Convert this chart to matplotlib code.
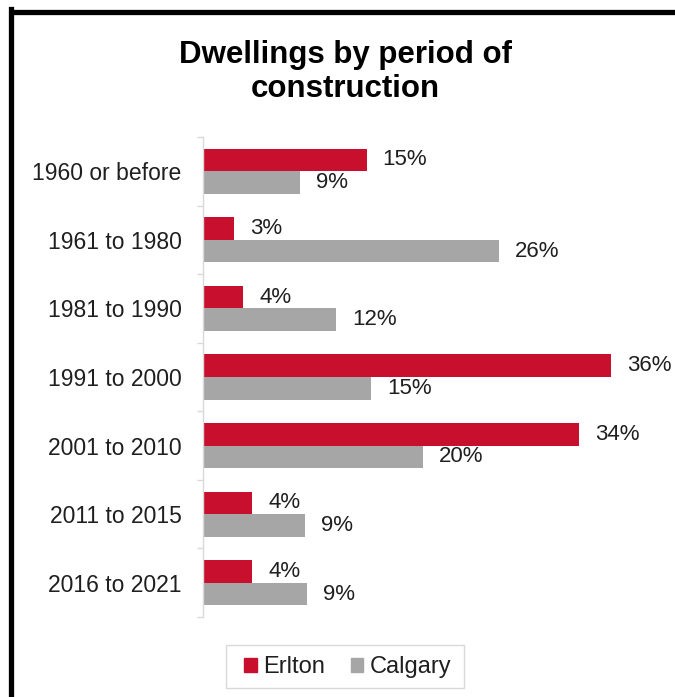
import matplotlib
matplotlib.use("Agg")
import matplotlib.pyplot as plt
from matplotlib.lines import Line2D
from matplotlib.patches import Patch, Rectangle

plt.rcParams['font.family'] = ['Liberation Sans', 'DejaVu Sans']

periods = ['1960 or before', '1961 to 1980', '1981 to 1990', '1991 to 2000',
           '2001 to 2010', '2011 to 2015', '2016 to 2021']
erlton = [14.6, 2.8, 3.6, 36.4, 33.6, 4.4, 4.4]
calgary = [8.7, 26.4, 11.9, 15.0, 19.6, 9.1, 9.3]
series_names = ['Erlton', 'Calgary']
title_lines = ['Dwellings by period of', 'construction']

red = '#C8102E'
grey = '#A6A6A6'
txt = '#1F1F1F'

fig = plt.figure(figsize=(6.75, 6.97), dpi=100)
ax = fig.add_axes([203 / 675, 1 - 617 / 697, 448 / 675, 480 / 697])

h = 0.33
ys = list(range(len(periods)))
ax.barh([y - h / 2 for y in ys], erlton, height=h, color=red)
ax.barh([y + h / 2 for y in ys], calgary, height=h, color=grey)

for y, v in zip(ys, erlton):
    ax.annotate(f'{v:.0f}%', (v, y - h / 2), xytext=(11.5, 0), textcoords='offset points',
                ha='left', va='center', fontsize=16, color=txt)
for y, v in zip(ys, calgary):
    ax.annotate(f'{v:.0f}%', (v, y + h / 2), xytext=(11.5, 0), textcoords='offset points',
                ha='left', va='center', fontsize=16, color=txt)

ax.set_xlim(0, 40)
ax.set_ylim(len(periods) - 0.5, -0.5)
ax.set_yticks(ys)
ax.set_yticklabels(periods, fontsize=16.5, color=txt)
ax.set_yticks([y - 0.5 for y in ys] + [len(periods) - 0.5], minor=True)
ax.tick_params(axis='y', which='major', length=0, pad=15.5)
ax.tick_params(axis='y', which='minor', length=4.5, color='#D9D9D9', width=1)
ax.set_xticks([])
for s in ['top', 'right', 'bottom']:
    ax.spines[s].set_visible(False)
ax.spines['left'].set_color('#D9D9D9')
ax.spines['left'].set_linewidth(1)

# title, one line at a time so the baselines sit where they do in the original
for line, base in zip(title_lines, [63.5, 97]):
    fig.text(0.512, 1 - base / 697, line, ha='center', va='baseline',
             fontsize=22.5, fontweight='bold', color='black')

# legend, frame drawn separately
handles = [Patch(color=red, label=series_names[0]), Patch(color=grey, label=series_names[1])]
leg = fig.legend(handles=handles, loc='center', bbox_to_anchor=(348 / 675, 1 - 667 / 697),
                 ncol=2, frameon=False, fontsize=17, handlelength=0.52,
                 handleheight=0.52, handletextpad=0.28, columnspacing=1.1, borderpad=0)
for t in leg.get_texts():
    t.set_color(txt)
fig.add_artist(Rectangle((226 / 675, 1 - 688 / 697), 238 / 675, 43 / 697, transform=fig.transFigure,
                         facecolor='none', edgecolor='#D9D9D9', linewidth=1))

# black frame on left and top edge
fig.add_artist(Line2D([10.5 / 675, 10.5 / 675], [0, 1 - 9 / 697], transform=fig.transFigure,
                      color='black', linewidth=3.8, solid_capstyle='projecting'))
fig.add_artist(Line2D([10.5 / 675, 1], [1 - 12 / 697, 1 - 12 / 697], transform=fig.transFigure,
                      color='black', linewidth=3.8, solid_capstyle='butt'))

fig.savefig('out.png', dpi=100)
